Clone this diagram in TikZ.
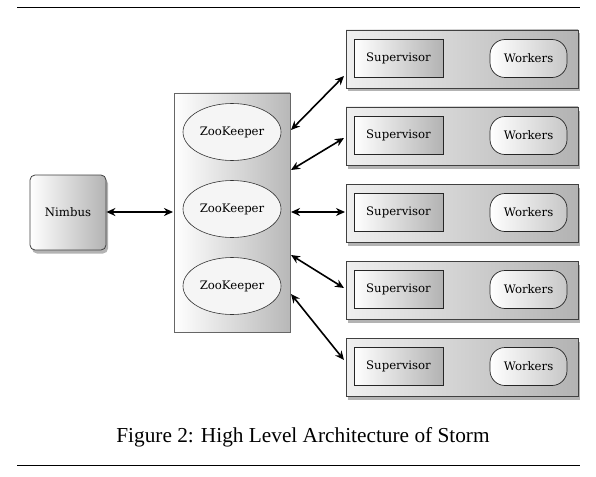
\documentclass[tikz,border=0pt]{standalone}
\usepackage{fontspec}
\newfontfamily\capfont{Liberation Serif}
\newfontfamily\lblfont{DejaVu Serif}
\usetikzlibrary{arrows.meta,shadows,shapes.geometric}
\begin{document}
\begin{tikzpicture}[x=1pt,y=-1pt,
  boxshade/.style={draw=black!75,line width=0.8pt,left color=white,right color=black!30},
  shadowed/.style={drop shadow={opacity=0.6,shadow xshift=2pt,shadow yshift=-3.5pt}},
  nimbusbox/.style={boxshade,shadowed,rounded corners=5pt,minimum width=76pt,minimum height=75pt,inner sep=0pt},
  zkbox/.style={draw=black!60,line width=0.6pt,left color=white,right color=black!28,minimum width=116pt,minimum height=239pt,inner sep=0pt},
  zkell/.style={ellipse,draw=black!80,line width=0.6pt,fill=white!96!black,minimum width=98pt,minimum height=57pt,inner sep=0pt},
  hostbox/.style={draw=black!75,line width=0.8pt,left color=black!6,right color=black!30,shadowed,minimum width=232pt,minimum height=58pt,inner sep=0pt},
  supbox/.style={draw=black!85,line width=0.7pt,left color=white,right color=black!30,minimum width=89pt,minimum height=38pt,inner sep=0pt},
  workbox/.style={draw=black!85,line width=0.7pt,left color=white,right color=black!22,rounded corners=15pt,minimum width=77pt,minimum height=38pt,inner sep=0pt},
  lbl/.style={font=\lblfont\fontsize{11.7}{14}\selectfont},
  conn/.style={{Stealth[length=9pt,width=8pt]}-{Stealth[length=9pt,width=8pt]},line width=1.6pt}
]
\useasboundingbox (0,0) rectangle (596,476);
\draw[line width=0.8pt] (17,7) -- (580,7);
\draw[line width=0.8pt] (17,465) -- (580,465);

\node[nimbusbox,lbl] (nimbus) at (68,212.5) {Nimbus};
\node[zkbox] (zk) at (232,212.5) {};
\node[zkell,lbl] (zk1) at (232,132) {ZooKeeper};
\node[zkell,lbl] (zk2) at (232,209) {ZooKeeper};
\node[zkell,lbl] (zk3) at (232,286) {ZooKeeper};

\foreach \i/\y in {1/59,2/136,3/213,4/290,5/367}{
  \node[hostbox] (h\i) at (462,\y) {};
  \node[supbox,lbl] (s\i) at (398.5,\y-0.5) {Supervisor};
  \node[workbox,lbl] (w\i) at (528.5,\y-0.5) {Workers};
}

\coordinate (za) at (291,130);
\coordinate (zb) at (291,170);
\coordinate (zc) at (291,212);
\coordinate (zd) at (291,255);
\coordinate (ze) at (291,294);
\coordinate (ha) at (344,76);
\coordinate (hb) at (344,138);
\coordinate (hc) at (345,212);
\coordinate (hd) at (344,288);
\coordinate (he) at (344,360);
\coordinate (zl) at (173,212);

\draw[conn] (nimbus.east |- zl) -- (zl);
\draw[conn] (za) -- (ha);
\draw[conn] (zb) -- (hb);
\draw[conn] (zc) -- (hc);
\draw[conn] (zd) -- (hd);
\draw[conn] (ze) -- (he);

\node[font=\capfont\fontsize{21.3}{24}\selectfont] (cap) at (303,437) {Figure 2: High Level Architecture of Storm};
\end{tikzpicture}
\end{document}
